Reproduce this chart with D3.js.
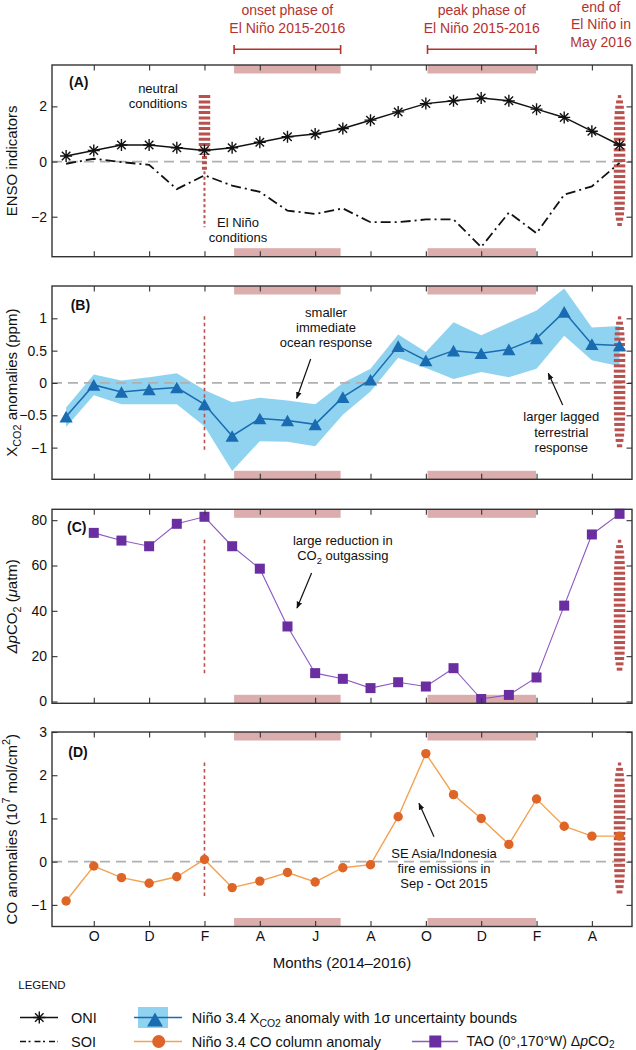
<!DOCTYPE html>
<html><head><meta charset="utf-8">
<script src="https://cdn.jsdelivr.net/npm/d3@7"></script>
<style>
body{margin:0;background:#fff}
svg{display:block;font-family:"Liberation Sans",Arial,Helvetica,sans-serif}
</style>
</head><body>
<svg id="chart" width="636" height="1050"></svg>
<script>
// ---------------- DATA ----------------
const months = ["Sep 2014","Oct 2014","Nov 2014","Dec 2014","Jan 2015","Feb 2015","Mar 2015","Apr 2015","May 2015","Jun 2015","Jul 2015","Aug 2015","Sep 2015","Oct 2015","Nov 2015","Dec 2015","Jan 2016","Feb 2016","Mar 2016","Apr 2016","May 2016"];
const xTickMonths = [1,3,5,7,9,11,13,15,17,19];
const xTickLabels = ["O","D","F","A","J","A","O","D","F","A"];

const oni  = [0.2,0.4,0.6,0.6,0.5,0.4,0.5,0.7,0.9,1.0,1.2,1.5,1.8,2.1,2.2,2.3,2.2,1.9,1.6,1.1,0.6];
const soi  = [-0.08,0.1,-0.02,-0.12,-1.0,-0.5,-0.87,-1.1,-1.78,-1.9,-1.7,-2.2,-2.2,-2.1,-2.1,-3.1,-1.85,-2.6,-1.2,-0.9,-0.05];

const xco2      = [-0.52,-0.03,-0.14,-0.1,-0.07,-0.33,-0.82,-0.55,-0.58,-0.64,-0.22,0.05,0.57,0.35,0.5,0.46,0.52,0.69,1.1,0.6,0.58];
const xco2Upper = [-0.38,0.13,0.04,0.09,0.15,-0.11,-0.3,-0.23,-0.27,-0.33,0.0,0.22,0.75,0.48,0.94,0.74,0.93,1.12,1.46,0.86,0.88];
const xco2Lower = [-0.68,-0.19,-0.33,-0.33,-0.33,-0.67,-1.36,-0.9,-0.91,-0.98,-0.49,-0.13,0.39,0.23,0.06,0.17,0.09,0.22,0.73,0.35,0.26];

const pco2 = [null,74.4,71.0,68.5,78.4,81.5,68.5,58.6,33.1,12.5,10.0,5.9,8.5,6.6,14.7,1.1,2.9,10.6,42.3,73.7,82.8];

const coAnom = [-0.91,-0.1,-0.37,-0.5,-0.35,0.05,-0.6,-0.45,-0.25,-0.47,-0.14,-0.07,1.04,2.5,1.55,1.0,0.4,1.45,0.82,0.59,0.59];

const onsetPhase = [6.07, 9.92];
const peakPhase  = [13.06, 16.98];
const neutralMonth = 5;
const endMonth = 20;

const yTicksA = [-2,0,2];
const yTicksB = [-1,-0.5,0,0.5,1];
const yTicksC = [0,20,40,60,80];
const yTicksD = [-1,0,1,2,3];

// ---------------- STYLE ----------------
const RED_TXT="#b3322f", PINK="#dcadad", MARK="#b9524f", BLUE="#1a6cb2", BAND="#8fd3f0",
      PURPLE="#6a2ea0", PURPLE_LINE="#8d58c3", ORANGE="#de6427", ORANGE_LINE="#f3a24f",
      GRAY="#b0b0b0", FRAME="#333";

const svg = d3.select("#chart");
const idx = months.map((m,i)=>i);
const x = d3.scaleLinear().domain([-0.51, 20.45]).range([52, 632]);

const panels = [
  {key:"A", top:65,    bottom:256.7, domain:[-3.45,3.5], ticks:yTicksA, zero:true},
  {key:"B", top:286,   bottom:479.3, domain:[-1.49,1.5], ticks:yTicksB, zero:true},
  {key:"C", top:509.3, bottom:703.3, domain:[-0.8,84.8], ticks:yTicksC, zero:false},
  {key:"D", top:732,   bottom:926.5, domain:[-1.5,3],    ticks:yTicksD, zero:true}
];
panels.forEach(p=>{ p.y = d3.scaleLinear().domain(p.domain).range([p.bottom,p.top]); });

// arrow marker
svg.append("defs").append("marker").attr("id","arr").attr("viewBox","0 0 10 10")
  .attr("refX",9).attr("refY",5).attr("markerWidth",7).attr("markerHeight",7)
  .attr("markerUnits","userSpaceOnUse").attr("orient","auto")
  .append("path").attr("d","M0,1 L10,5 L0,9 Z").attr("fill","#111");

// symbols
const asterisk = {draw(ctx,size){const r=Math.sqrt(size)/2;for(let i=0;i<4;i++){const a=i*Math.PI/4;ctx.moveTo(r*Math.cos(a),r*Math.sin(a));ctx.lineTo(-r*Math.cos(a),-r*Math.sin(a));}}};
const tri = {draw(ctx,size){const w=Math.sqrt(size),h=w*0.88;ctx.moveTo(0,-h/2);ctx.lineTo(w/2,h/2);ctx.lineTo(-w/2,h/2);ctx.closePath();}};

function rich(sel, segs, fs, subK=0.3){
  let shift=0;
  segs.forEach(s=>{
    const sp = sel.append("tspan").text(s.t);
    const target = s.sub ? subK*fs : s.sup ? -0.42*fs : 0;
    if (Math.abs(target-shift)>0.01){ sp.attr("dy", target-shift); shift=target; }
    if (s.sub||s.sup) sp.attr("font-size", (0.72*fs)+"px");
    if (s.it) sp.attr("font-style","italic");
  });
}
function txt(g, xx, yy, s, opt={}){
  return g.append("text").attr("x",xx).attr("y",yy).text(s)
    .attr("font-size",(opt.fs||13)+"px").attr("fill",opt.fill||"#111")
    .attr("text-anchor",opt.anchor||"middle").attr("font-weight",opt.bold?"bold":null);
}
function lens(g, cx, y0, y1, w){
  const period=5.33, h=3, c=(y0+y1)/2, half=(y1-y0)/2;
  for(let yy=y0; yy<=y1-h+0.01; yy+=period){
    const t=(yy+h/2-c)/half;
    const ww=Math.max(1.6, w*Math.sqrt(Math.max(0,1-Math.pow(Math.abs(t),4))));
    g.append("rect").attr("x",cx-ww/2).attr("y",yy).attr("width",ww).attr("height",h).attr("fill",MARK);
  }
}

// ---------------- PANELS ----------------
panels.forEach(p=>{
  const g = svg.append("g");
  const y = p.y;
  const h = p.bottom-p.top;
  const mTop = p.top + 0.157*h, mBot = p.bottom - 0.153*h;

  // phase bars
  [onsetPhase, peakPhase].forEach(ph=>{
    g.append("rect").attr("x",x(ph[0])).attr("width",x(ph[1])-x(ph[0])).attr("y",p.top).attr("height",8.5).attr("fill",PINK);
    g.append("rect").attr("x",x(ph[0])).attr("width",x(ph[1])-x(ph[0])).attr("y",p.bottom-8.5).attr("height",8.5).attr("fill",PINK);
  });

  if (p.key==="B"){
    g.append("path").datum(idx).attr("fill",BAND)
      .attr("d", d3.area().x(i=>x(i)).y0(i=>y(xco2Lower[i])).y1(i=>y(xco2Upper[i])));
  }
  if (p.zero){
    g.append("line").attr("x1",x.range()[0]).attr("x2",x.range()[1]).attr("y1",y(0)).attr("y2",y(0))
      .attr("stroke",GRAY).attr("stroke-width",1.8).attr("stroke-dasharray","10,6");
  }

  // event markers
  const xn = x(neutralMonth);
  if (p.key==="A"){
    g.append("line").attr("x1",xn).attr("x2",xn).attr("y1",mTop).attr("y2",y(0.25))
      .attr("stroke",MARK).attr("stroke-width",11.5).attr("stroke-dasharray","3,2.33");
    g.append("line").attr("x1",xn).attr("x2",xn).attr("y1",y(0.2)).attr("y2",y(-0.3))
      .attr("stroke",MARK).attr("stroke-width",5).attr("stroke-dasharray","3,2.33");
    g.append("line").attr("x1",xn).attr("x2",xn).attr("y1",y(-0.35)).attr("y2",mBot)
      .attr("stroke",MARK).attr("stroke-width",2).attr("stroke-dasharray","3,2.5");
  } else {
    g.append("line").attr("x1",xn).attr("x2",xn).attr("y1",mTop).attr("y2",mBot)
      .attr("stroke",MARK).attr("stroke-width",1.6).attr("stroke-dasharray","3.5,3");
  }
  lens(g, x(endMonth), mTop, mBot, 11.5);

  // data
  if (p.key==="A"){
    g.append("path").datum(idx).attr("fill","none").attr("stroke","#111").attr("stroke-width",1.8)
      .attr("stroke-dasharray","10,4,2,4")
      .attr("d", d3.line().x(i=>x(i)).y(i=>y(soi[i])));
    g.append("path").datum(idx).attr("fill","none").attr("stroke","#111").attr("stroke-width",1.5)
      .attr("d", d3.line().x(i=>x(i)).y(i=>y(oni[i])));
    g.selectAll(".star").data(idx).join("path")
      .attr("transform",i=>`translate(${x(i)},${y(oni[i])})`)
      .attr("d", d3.symbol(asterisk,144)).attr("fill","none").attr("stroke","#111").attr("stroke-width",1.4);
  }
  if (p.key==="B"){
    g.append("path").datum(idx).attr("fill","none").attr("stroke",BLUE).attr("stroke-width",1.5)
      .attr("d", d3.line().x(i=>x(i)).y(i=>y(xco2[i])));
    g.selectAll(".tri").data(idx).join("path")
      .attr("transform",i=>`translate(${x(i)},${y(xco2[i])})`)
      .attr("d", d3.symbol(tri,175)).attr("fill",BLUE);
  }
  if (p.key==="C"){
    const def = idx.filter(i=>pco2[i]!==null);
    g.append("path").datum(def).attr("fill","none").attr("stroke",PURPLE_LINE).attr("stroke-width",1.1)
      .attr("d", d3.line().x(i=>x(i)).y(i=>y(pco2[i])));
    g.selectAll(".sq").data(def).join("rect")
      .attr("x",i=>x(i)-5).attr("y",i=>y(pco2[i])-5).attr("width",10).attr("height",10).attr("fill",PURPLE);
  }
  if (p.key==="D"){
    g.append("path").datum(idx).attr("fill","none").attr("stroke",ORANGE_LINE).attr("stroke-width",1.4)
      .attr("d", d3.line().x(i=>x(i)).y(i=>y(coAnom[i])));
    g.selectAll(".dot").data(idx).join("circle")
      .attr("cx",i=>x(i)).attr("cy",i=>y(coAnom[i])).attr("r",4.7).attr("fill",ORANGE);
  }

  // axes (ticks inward)
  const ax = g.append("g");
  const left = ax.append("g").attr("transform",`translate(${x.range()[0]},0)`)
    .call(d3.axisLeft(y).tickValues(p.ticks).tickSize(-5.5).tickPadding(5).tickFormat(d3.format("")));
  const right = ax.append("g").attr("transform",`translate(${x.range()[1]},0)`)
    .call(d3.axisRight(y).tickValues(p.ticks).tickSize(-5.5).tickFormat(""));
  const top = ax.append("g").attr("transform",`translate(0,${p.top})`)
    .call(d3.axisTop(x).tickValues(xTickMonths).tickSize(-5.5).tickFormat(""));
  const bottom = ax.append("g").attr("transform",`translate(0,${p.bottom})`)
    .call(d3.axisBottom(x).tickValues(xTickMonths).tickSize(-5.5).tickPadding(5)
      .tickFormat(p.key==="D" ? ((d,i)=>xTickLabels[i]) : ""));
  [left,right,top,bottom].forEach(a=>{
    a.attr("font-family",null).attr("font-size",null);
    a.select(".domain").remove();
    a.selectAll("line").attr("stroke",FRAME).attr("stroke-width",1.1);
    a.selectAll("text").attr("font-size","14px").attr("fill","#111");
  });
  ax.append("rect").attr("x",x.range()[0]).attr("y",p.top).attr("width",x.range()[1]-x.range()[0])
    .attr("height",h).attr("fill","none").attr("stroke",FRAME).attr("stroke-width",1.4);
});

// ---------------- AXIS TITLES ----------------
function ylabel(p, segs){
  const t = svg.append("text").attr("transform",`translate(16.5,${(p.top+p.bottom)/2}) rotate(-90)`)
    .attr("text-anchor","middle").attr("font-size","15px").attr("fill","#111");
  rich(t, segs, 15);
}
ylabel(panels[0], [{t:"ENSO indicators"}]);
ylabel(panels[1], [{t:"X"},{t:"CO2",sub:true},{t:" anomalies (ppm)"}]);
ylabel(panels[2], [{t:"Δ",it:true},{t:"p",it:true},{t:"CO"},{t:"2",sub:true},{t:" ("},{t:"μ",it:true},{t:"atm)"}]);
ylabel(panels[3], [{t:"CO anomalies (10"},{t:"7",sup:true},{t:" mol/cm"},{t:"2",sup:true},{t:")"}]);
txt(svg, 342, 968, "Months (2014–2016)", {fs:15});

// ---------------- TOP ANNOTATIONS ----------------
[[onsetPhase,"onset phase of"],[peakPhase,"peak phase of"]].forEach(([ph,label])=>{
  const cx = (x(ph[0])+x(ph[1]))/2;
  txt(svg, cx, 15, label, {fs:14, fill:RED_TXT});
  txt(svg, cx, 33, "El Niño 2015-2016", {fs:14, fill:RED_TXT});
  const bg = svg.append("g").attr("stroke",RED_TXT).attr("stroke-width",1.6);
  bg.append("line").attr("x1",x(ph[0])).attr("x2",x(ph[1])).attr("y1",49.3).attr("y2",49.3);
  bg.append("line").attr("x1",x(ph[0])).attr("x2",x(ph[0])).attr("y1",45).attr("y2",54);
  bg.append("line").attr("x1",x(ph[1])).attr("x2",x(ph[1])).attr("y1",45).attr("y2",54);
});
txt(svg, 601, 11.7, "end of", {fs:14, fill:RED_TXT});
txt(svg, 601, 29, "El Niño in", {fs:14, fill:RED_TXT});
txt(svg, 601, 46.7, "May 2016", {fs:14, fill:RED_TXT});

// ---------------- PANEL ANNOTATIONS ----------------
function arrow(x1,y1,x2,y2){
  svg.append("line").attr("x1",x1).attr("y1",y1).attr("x2",x2).attr("y2",y2)
    .attr("stroke","#111").attr("stroke-width",1.2).attr("marker-end","url(#arr)");
}
txt(svg, 69, 87, "(A)", {fs:14, bold:true, anchor:"start"});
txt(svg, 158, 93.3, "neutral");
txt(svg, 158, 108.3, "conditions");
txt(svg, 238, 226.7, "El Niño");
txt(svg, 238, 241.7, "conditions");

txt(svg, 70.7, 310, "(B)", {fs:14, bold:true, anchor:"start"});
txt(svg, 326, 317.3, "smaller");
txt(svg, 326, 332.3, "immediate");
txt(svg, 326, 347, "ocean response");
arrow(310.7,359,296.7,398.3);
txt(svg, 561.3, 421, "larger lagged");
txt(svg, 561.3, 436.5, "terrestrial");
txt(svg, 561.3, 451.7, "response");
arrow(562.7,405,548.3,373.3);

txt(svg, 67, 531.7, "(C)", {fs:14, bold:true, anchor:"start"});
txt(svg, 342.8, 545, "large reduction in");
{ const t = svg.append("text").attr("x",342.8).attr("y",560).attr("text-anchor","middle").attr("font-size","13px").attr("fill","#111");
  rich(t, [{t:"CO"},{t:"2",sub:true},{t:" outgassing"}], 13); }
arrow(311.6,573,297,608);

txt(svg, 68.3, 757.3, "(D)", {fs:14, bold:true, anchor:"start"});
txt(svg, 444, 858.3, "SE Asia/Indonesia");
txt(svg, 444, 873.3, "fire emissions in");
txt(svg, 444, 888.3, "Sep - Oct 2015");
arrow(434,836.7,419,803.3);

// ---------------- LEGEND ----------------
const lg = svg.append("g");
txt(lg, 18.3, 989, "LEGEND", {fs:11.5, anchor:"start"});
const r1 = 1017.5, r2 = 1041.5;
lg.append("line").attr("x1",20).attr("x2",58).attr("y1",r1).attr("y2",r1).attr("stroke","#111").attr("stroke-width",1.5);
lg.append("path").attr("transform",`translate(39.3,${r1})`).attr("d",d3.symbol(asterisk,144)()).attr("stroke","#111").attr("stroke-width",1.4).attr("fill","none");
txt(lg, 71, 1023, "ONI", {fs:14.5, anchor:"start"});
lg.append("line").attr("x1",20).attr("x2",58).attr("y1",r2).attr("y2",r2).attr("stroke","#111").attr("stroke-width",1.5).attr("stroke-dasharray","6,2.5,2,4");
txt(lg, 71, 1046.5, "SOI", {fs:14.5, anchor:"start"});

lg.append("rect").attr("x",138).attr("y",1007).attr("width",30).attr("height",21).attr("fill",BAND);
lg.append("line").attr("x1",134).attr("x2",182).attr("y1",r1).attr("y2",r1).attr("stroke",BLUE).attr("stroke-width",1.5);
lg.append("path").attr("transform",`translate(155,${r1+2})`).attr("d",d3.symbol(tri,250)()).attr("fill",BLUE);
{ const t = lg.append("text").attr("x",191.7).attr("y",1023).attr("font-size","14.5px").attr("fill","#111");
  rich(t, [{t:"Niño 3.4 X"},{t:"CO2",sub:true},{t:" anomaly with 1σ uncertainty bounds"}], 14.5); }

lg.append("line").attr("x1",134).attr("x2",182).attr("y1",r2).attr("y2",r2).attr("stroke",ORANGE_LINE).attr("stroke-width",1.6);
lg.append("circle").attr("cx",158.7).attr("cy",r2).attr("r",6.5).attr("fill",ORANGE);
txt(lg, 191.7, 1046.5, "Niño 3.4 CO column anomaly", {fs:14.5, anchor:"start"});

lg.append("line").attr("x1",412).attr("x2",458).attr("y1",r2).attr("y2",r2).attr("stroke",PURPLE_LINE).attr("stroke-width",1.4);
lg.append("rect").attr("x",435.3-6).attr("y",r2-6).attr("width",12).attr("height",12).attr("fill",PURPLE);
{ const t = lg.append("text").attr("x",466.5).attr("y",1045.5).attr("font-size","14px").attr("fill","#111");
  rich(t, [{t:"TAO (0°,170°W) Δ"},{t:"p",it:true},{t:"CO"},{t:"2",sub:true}], 14, 0.16); }
</script>
</body></html>
